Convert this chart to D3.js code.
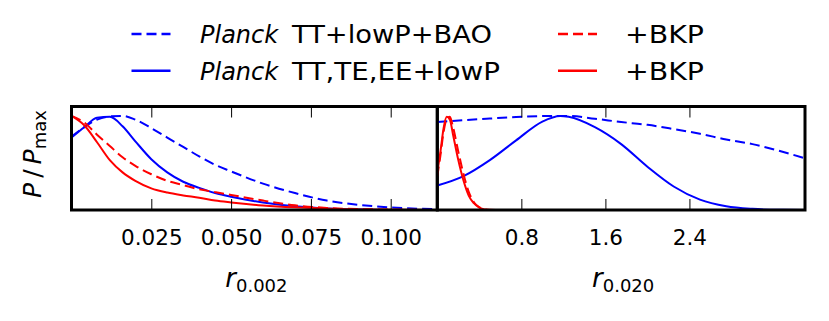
<!DOCTYPE html>
<html>
<head>
<meta charset="utf-8">
<script src="https://cdn.jsdelivr.net/npm/d3@7"></script>
<style>
  body { margin: 0; background: #fff; }
  text { font-family: "DejaVu Sans", sans-serif; fill: #000; }
</style>
</head>
<body>
<svg id="chart"></svg>
<script>
// values, P / Pmax
const rLeft = [0, 0.004, 0.008, 0.012, 0.016, 0.02, 0.025, 0.03, 0.035, 0.04, 0.045, 0.05, 0.06, 0.07, 0.08, 0.09, 0.1, 0.115];
const leftTTBAO   = [0.78, 0.88, 0.96, 0.995, 1.0, 0.96, 0.87, 0.77, 0.67, 0.57, 0.48, 0.41, 0.28, 0.18, 0.10, 0.055, 0.027, 0.008];
const leftTTTEEE  = [0.77, 0.88, 0.98, 0.99, 0.89, 0.73, 0.54, 0.40, 0.30, 0.235, 0.18, 0.14, 0.08, 0.04, 0.017, 0.005, 0.001, 0];
const leftBKPdash = [1.0, 0.93, 0.80, 0.68, 0.56, 0.47, 0.38, 0.31, 0.265, 0.22, 0.19, 0.16, 0.10, 0.05, 0.022, 0.01, 0.004, 0];
const leftBKPsol  = [1.0, 0.90, 0.72, 0.53, 0.40, 0.31, 0.23, 0.185, 0.155, 0.13, 0.10, 0.08, 0.048, 0.028, 0.015, 0.005, 0.002, 0];

const rRightBlue = [0, 0.25, 0.5, 0.75, 1.0, 1.17, 1.25, 1.5, 1.75, 2.0, 2.25, 2.5, 2.75, 3.0, 3.25, 3.5];
const rightTTBAO  = [0.935, 0.955, 0.972, 0.988, 0.998, 1.0, 1.0, 0.97, 0.935, 0.905, 0.86, 0.81, 0.75, 0.70, 0.63, 0.55];
const rightTTTEEE = [0.26, 0.36, 0.53, 0.74, 0.94, 1.0, 0.99, 0.88, 0.70, 0.46, 0.25, 0.11, 0.04, 0.012, 0.002, 0];

const rRightRed = [0, 0.03, 0.06, 0.09, 0.12, 0.15, 0.2, 0.25, 0.3, 0.35, 0.4, 0.45, 0.5, 0.6];
const rightBKPdash = [0.36, 0.58, 0.83, 0.97, 0.99, 0.88, 0.62, 0.38, 0.19, 0.08, 0.03, 0.008, 0.002, 0];
const rightBKPsol  = [0.40, 0.62, 0.87, 0.99, 0.96, 0.80, 0.53, 0.31, 0.15, 0.07, 0.025, 0.005, 0, 0];

const leftTicks = [0.025, 0.05, 0.075, 0.1];
const leftTickLabels = ['0.025', '0.050', '0.075', '0.100'];
const rightTicks = [0.8, 1.6, 2.4];
const rightTickLabels = ['0.8', '1.6', '2.4'];

let width = 829;
let height = 321;
let yTop = 106.5;
let yBottom = 210;

let svg = d3.select('#chart')
    .attr('width', width)
    .attr('height', height)

let yScale = d3.scaleLinear()
    .domain([0, 1.1])
    .range([yBottom, yTop])

let panels = [
    {
        id: 'left', x0: 71.5, x1: 437.3, domain: [0, 0.1146],
        ticks: leftTicks, labels: leftTickLabels, sub: '0.002',
        curves: [
            { r: rLeft, p: leftTTBAO, color: '#0000ff', dash: true },
            { r: rLeft, p: leftTTTEEE, color: '#0000ff', dash: false },
            { r: rLeft, p: leftBKPdash, color: '#ff0000', dash: true },
            { r: rLeft, p: leftBKPsol, color: '#ff0000', dash: false }
        ]
    },
    {
        id: 'right', x0: 437.3, x1: 805, domain: [0, 3.5],
        ticks: rightTicks, labels: rightTickLabels, sub: '0.020',
        curves: [
            { r: rRightBlue, p: rightTTBAO, color: '#0000ff', dash: true },
            { r: rRightBlue, p: rightTTTEEE, color: '#0000ff', dash: false },
            { r: rRightRed, p: rightBKPdash, color: '#ff0000', dash: true },
            { r: rRightRed, p: rightBKPsol, color: '#ff0000', dash: false }
        ]
    }
]

let defs = svg.append('defs')

panels.forEach((panel) => {
    let xScale = d3.scaleLinear()
        .domain(panel.domain)
        .range([panel.x0, panel.x1])

    defs.append('clipPath')
        .attr('id', 'clip-' + panel.id)
        .append('rect')
        .attr('x', panel.x0)
        .attr('y', yTop)
        .attr('width', panel.x1 - panel.x0)
        .attr('height', yBottom - yTop)

    let line = d3.line()
        .x((d) => xScale(d[0]))
        .y((d) => yScale(d[1]))
        .curve(d3.curveMonotoneX)

    svg.append('g')
        .attr('clip-path', 'url(#clip-' + panel.id + ')')
        .selectAll('path')
        .data(panel.curves)
        .enter()
        .append('path')
        .attr('d', (c) => line(c.r.map((r, i) => [r, c.p[i]])))
        .attr('fill', 'none')
        .attr('stroke', (c) => c.color)
        .attr('stroke-width', 2)
        .attr('stroke-dasharray', (c) => c.dash ? '10,5' : null)

    // ticks point inward, top and bottom
    let bottomAxis = d3.axisBottom(xScale)
        .tickValues(panel.ticks)
        .tickSize(-11)
        .tickPadding(0)
        .tickFormat((d, i) => panel.labels[i])
    let gb = svg.append('g')
        .attr('transform', 'translate(0,' + yBottom + ')')
        .call(bottomAxis)
    gb.select('.domain').remove()
    gb.selectAll('line').attr('stroke', '#000').attr('stroke-width', 1)
    gb.selectAll('text')
        .attr('y', 35.3)
        .attr('dy', null)
        .style('font-family', '"DejaVu Sans", sans-serif')
        .style('font-size', '21.5px')
        .attr('fill', '#000')

    let topAxis = d3.axisTop(xScale)
        .tickValues(panel.ticks)
        .tickSize(-11)
        .tickFormat('')
    let gt = svg.append('g')
        .attr('transform', 'translate(0,' + yTop + ')')
        .call(topAxis)
    gt.select('.domain').remove()
    gt.selectAll('line').attr('stroke', '#000').attr('stroke-width', 1)

    svg.append('rect')
        .attr('x', panel.x0)
        .attr('y', yTop)
        .attr('width', panel.x1 - panel.x0)
        .attr('height', yBottom - yTop)
        .attr('fill', 'none')
        .attr('stroke', '#000')
        .attr('stroke-width', 3)

    // x label r_{k}
    let xl = svg.append('text')
        .attr('x', (panel.x0 + panel.x1) / 2 + 2)
        .attr('y', 287)
        .attr('text-anchor', 'middle')
    xl.append('tspan')
        .style('font-style', 'italic')
        .style('font-size', '26px')
        .text('r')
    xl.append('tspan')
        .style('font-size', '18px')
        .attr('dy', 5)
        .text(panel.sub)
})

// y label
let yl = svg.append('text')
    .attr('transform', 'translate(41,154) rotate(-90)')
    .attr('text-anchor', 'middle')
    .style('font-size', '25px')
yl.append('tspan').style('font-style', 'italic').text('P')
yl.append('tspan').text('\u2009/\u2009')
yl.append('tspan').style('font-style', 'italic').text('P')
yl.append('tspan').style('font-size', '18px').attr('dy', 5).text('max')

// legend
let legendItems = [
    { color: '#0000ff', dash: true, italic: 'Planck', rest: 'TT+lowP+BAO', col: 0, row: 0 },
    { color: '#0000ff', dash: false, italic: 'Planck', rest: 'TT,TE,EE+lowP', col: 0, row: 1 },
    { color: '#ff0000', dash: true, italic: '', rest: '+BKP', col: 1, row: 0 },
    { color: '#ff0000', dash: false, italic: '', rest: '+BKP', col: 1, row: 1 }
]
let legendCols = [
    { lineX: 131.5, italicX: 200, restX: 292, restLen: [200, 208] },
    { lineX: 558, italicX: 0, restX: 625, restLen: [79, 79] }
]
let legendRows = [34, 70.7]

legendItems.forEach((item) => {
    let col = legendCols[item.col]
    let y = legendRows[item.row]
    svg.append('line')
        .attr('x1', col.lineX)
        .attr('x2', col.lineX + 39)
        .attr('y1', y)
        .attr('y2', y)
        .attr('stroke', item.color)
        .attr('stroke-width', 2.5)
        .attr('stroke-dasharray', item.dash ? '10,5' : null)
    if (item.italic) {
        svg.append('text')
            .attr('x', col.italicX)
            .attr('y', y + 8.8)
            .style('font-size', '24px')
            .style('font-style', 'italic')
            .text(item.italic)
    }
    svg.append('text')
        .attr('x', col.restX)
        .attr('y', y + 8.8)
        .style('font-size', '24px')
        .attr('textLength', col.restLen[item.row])
        .attr('lengthAdjust', 'spacingAndGlyphs')
        .text(item.rest)
})
</script>
</body>
</html>
